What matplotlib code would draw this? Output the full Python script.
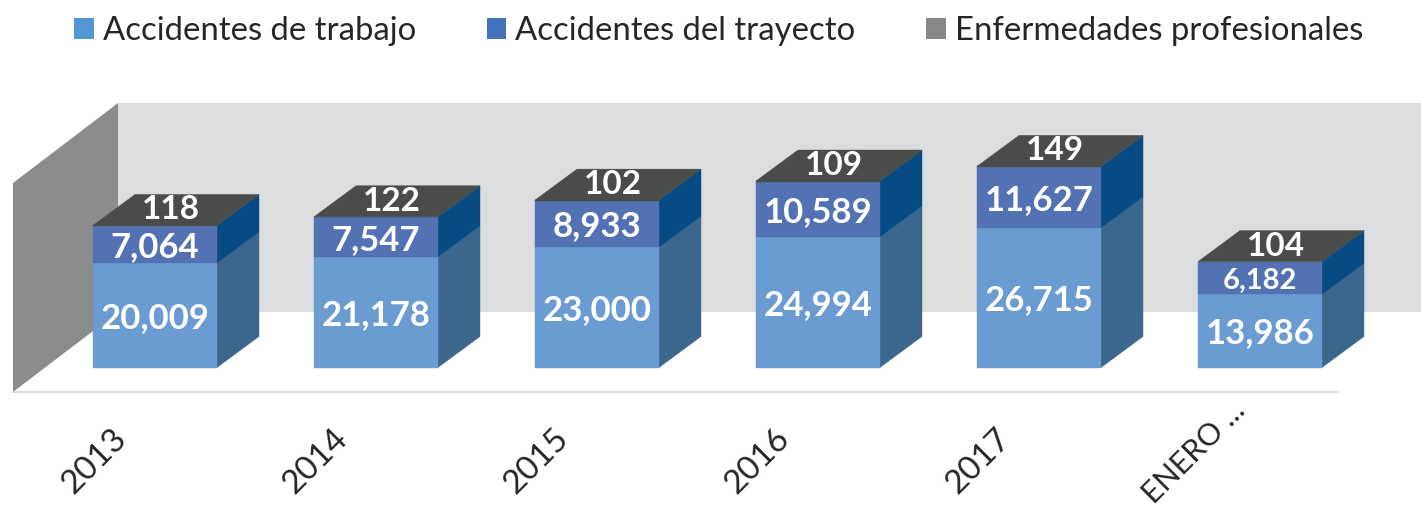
import matplotlib
matplotlib.use('Agg')
import matplotlib.pyplot as plt
from matplotlib.patches import Polygon, Patch
from matplotlib.transforms import ScaledTranslation

plt.rcParams['font.family'] = ['Lato', 'DejaVu Sans']

categories = ['2013', '2014', '2015', '2016', '2017', 'ENERO ...']
trabajo = [20009, 21178, 23000, 24994, 26715, 13986]
trayecto = [7064, 7547, 8933, 10589, 11627, 6182]
enfermedades = [118, 122, 102, 109, 149, 104]
series_names = ['Accidentes de trabajo', 'Accidentes del trayecto', 'Enfermedades profesionales']

W, H = 1421, 517
STEP = 221.0            # px between categories
PX_PER_UNIT = 0.005225  # px per case
BAR_W = 124 / STEP
DX = 42 / STEP          # bar depth
DY = 31 / PX_PER_UNIT
WALL_DX = 105 / STEP    # chart depth
WALL_DY = 80 / PX_PER_UNIT
WALL_MAX = 40000

front_cols = ['#6A9BD1', '#5272B4', '#4A4C49']
side_cols = ['#3C678C', '#074B84', '#074B84']
legend_cols = ['#5197D5', '#4372BA', '#878787']

fig = plt.figure(figsize=(W / 100, H / 100), dpi=100)
ax = fig.add_axes([13 / W, (H - 392) / H, (W - 13) / W, 290 / H])
ax.set_xlim(-142 / STEP, (W - 155) / STEP)
ax.set_ylim(-24.5 / PX_PER_UNIT, 265.5 / PX_PER_UNIT)
ax.patch.set_alpha(0)
for s in ax.spines.values():
    s.set_visible(False)
ax.set_yticks([])

# walls and floor line
x0 = -142 / STEP
y0 = -24.5 / PX_PER_UNIT
ax.add_patch(Polygon([(x0 + WALL_DX, y0 + WALL_DY), (ax.get_xlim()[1], y0 + WALL_DY),
                      (ax.get_xlim()[1], y0 + WALL_DY + WALL_MAX), (x0 + WALL_DX, y0 + WALL_DY + WALL_MAX)],
                     fc='#DCDDDF', ec='none', zorder=1))
ax.add_patch(Polygon([(x0, y0), (x0 + WALL_DX, y0 + WALL_DY),
                      (x0 + WALL_DX, y0 + WALL_DY + WALL_MAX), (x0, y0 + WALL_MAX)],
                     fc='#8C8C8C', ec='none', zorder=2))
ax.plot([x0, (1338 - 155) / STEP], [y0, y0], color='#D9DADA', lw=1.5, clip_on=False, zorder=2)

label_drop = 2.5 / PX_PER_UNIT  # labels sit a little low in the reference

for i in range(len(categories)):
    left = i - BAR_W / 2
    right = i + BAR_W / 2
    bottom = 0
    for vals, fc, sc in zip([trabajo, trayecto, enfermedades], front_cols, side_cols):
        top = bottom + vals[i]
        ax.add_patch(Polygon([(left, bottom), (right, bottom), (right, top), (left, top)],
                             fc=fc, ec=fc, lw=0.3, zorder=5))
        ax.add_patch(Polygon([(right, bottom), (right + DX, bottom + DY), (right + DX, top + DY), (right, top)],
                             fc=sc, ec=sc, lw=0.3, zorder=4))
        bottom = top
    # top of the stack takes the colour of the last series
    ax.add_patch(Polygon([(left, bottom), (right, bottom), (right + DX, bottom + DY), (left + DX, bottom + DY)],
                         fc=front_cols[2], ec=front_cols[2], lw=0.3, zorder=5))

    ax.text(i, trabajo[i] / 2 - label_drop, f'{trabajo[i]:,}', color='white', fontsize=25, fontweight='bold',
            ha='center', va='center', zorder=6)
    fs = 21 if trayecto[i] < 7000 else 25
    ax.text(i, trabajo[i] + trayecto[i] / 2 - label_drop, f'{trayecto[i]:,}', color='white', fontsize=fs,
            fontweight='bold', ha='center', va='center', zorder=6)
    ax.text(i + 0.07, bottom + DY / 2, f'{enfermedades[i]}', color='white', fontsize=24,
            fontweight='bold', ha='center', va='center', zorder=6)

ax.set_xticks(range(len(categories)))
ax.set_xticklabels(categories, rotation=45, ha='right', va='top', rotation_mode='anchor',
                   fontsize=24, color='#262626')
ax.tick_params(axis='x', length=0, pad=0)
labels = ax.get_xticklabels()
for n, lab in enumerate(labels):
    # last label is longer, so it sits higher and further right
    if n == len(labels) - 1:
        lab.set_fontsize(22)
        shift = ScaledTranslation(-29 / 100, -4 / 100, fig.dpi_scale_trans)
    else:
        shift = ScaledTranslation(-44 / 100, -31 / 100, fig.dpi_scale_trans)
    lab.set_transform(lab.get_transform() + shift)

handles = [Patch(fc=c, ec='none') for c in legend_cols]
fig.legend(handles, series_names, ncol=3, loc='upper left', bbox_to_anchor=(51 / W, 1 + 7 / H),
           frameon=False, fontsize=23.7, labelcolor='#262626', handlelength=0.6, handleheight=0.6,
           handletextpad=0.27, columnspacing=2.15, borderpad=0.2)

fig.savefig('out.png', dpi=100)
